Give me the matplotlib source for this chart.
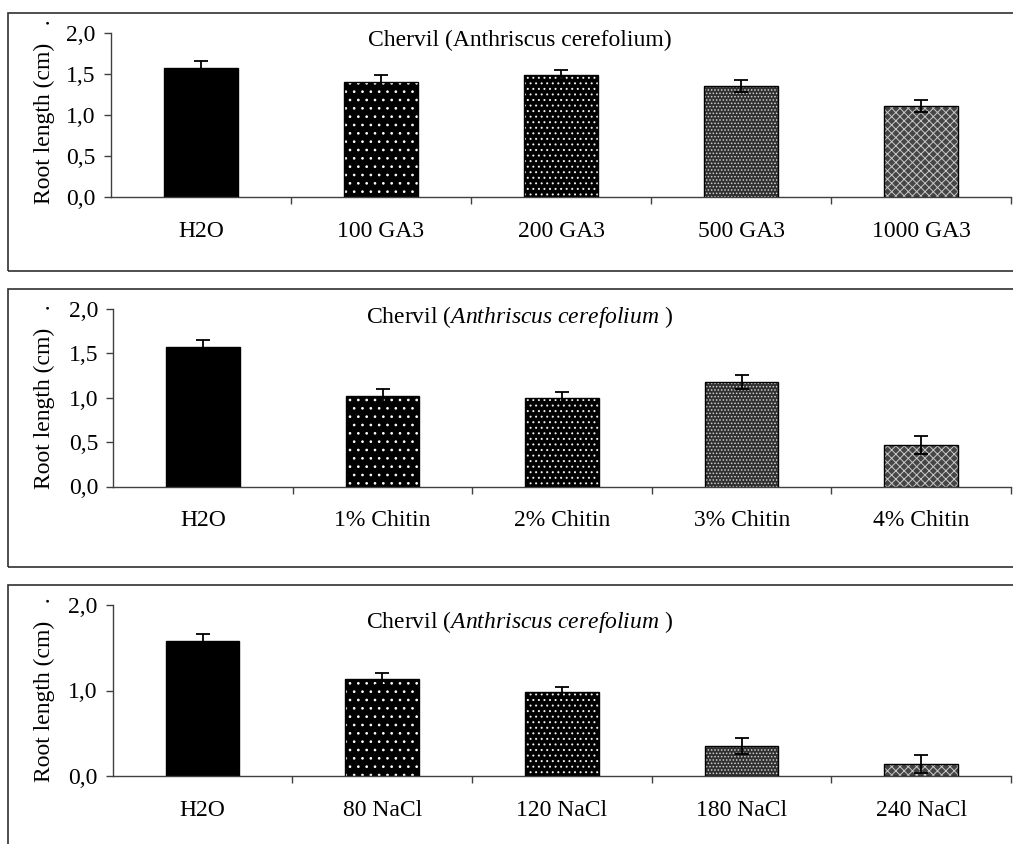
import matplotlib
matplotlib.use("Agg")
import matplotlib.pyplot as plt
from matplotlib.patches import Rectangle

# dados (comprimento da raiz, cm)
cat_ga3 = ["H2O", "100 GA3", "200 GA3", "500 GA3", "1000 GA3"]
ga3_mean = [1.57, 1.40, 1.48, 1.35, 1.11]
ga3_err = [0.09, 0.08, 0.07, 0.07, 0.07]

cat_chitin = ["H2O", "1% Chitin", "2% Chitin", "3% Chitin", "4% Chitin"]
chitin_mean = [1.57, 1.02, 1.00, 1.18, 0.47]
chitin_err = [0.08, 0.08, 0.06, 0.08, 0.10]

cat_nacl = ["H2O", "80 NaCl", "120 NaCl", "180 NaCl", "240 NaCl"]
nacl_mean = [1.58, 1.13, 0.98, 0.35, 0.14]
nacl_err = [0.08, 0.07, 0.06, 0.09, 0.10]

yticks_fino = [0.0, 0.5, 1.0, 1.5, 2.0]
yticks_grosso = [0.0, 1.0, 2.0]

titulo_reto = "Chervil (Anthriscus cerefolium)"
titulo_italico = r"Chervil ($\mathit{Anthriscus\ cerefolium}$ )"
ylabel = "Root length (cm)   ."

W, H = 1013, 844
FONTE = 17

# padrao de cada barra: (cor de fundo, cor da hachura, hachura)
PADROES = [
    ("black", None, None),
    ("black", "white", ".."),
    ("black", "#f0f0f0", "..."),
    ("#303030", "#d0d0d0", "....."),
    ("#454545", "#c8c8c8", "xxxx"),
]


#------------------------------------------------------
def px(x, y):
    """ pixel -> fracao da figura """
    return x / W, 1 - y / H


#------------------------------------------------------
def painel(fig, eixo_px, caixa_px, cats, medias, erros, yticks,
           titulo, titulo_y, label_y):
    x0, ytop, x1, y0 = eixo_px
    l, b = px(x0, y0)
    r, t = px(x1, ytop)
    ax = fig.add_axes([l, b, r - l, t - b])

    x = [i + 0.5 for i in range(len(cats))]
    larg = 0.41

    # fundo das barras
    cores = [p[0] for p in PADROES]
    ax.bar(x, medias, width=larg, color=cores, edgecolor="black",
           linewidth=0, zorder=2)
    # hachuras
    for xi, m, (fundo, hc, h) in zip(x, medias, PADROES):
        if h is None:
            continue
        ax.bar(xi, m, width=larg, facecolor="none", edgecolor=hc,
               hatch=h, linewidth=0, zorder=3)
    # contorno
    ax.bar(x, medias, width=larg, facecolor="none", edgecolor="black",
           linewidth=1.0, zorder=4)
    ax.errorbar(x, medias, yerr=erros, fmt="none", ecolor="black",
                elinewidth=1.3, capsize=4.7, capthick=1.3, zorder=5)

    ax.set_xlim(0, len(cats))
    ax.set_ylim(0, 2.0)
    for s in ("top", "right"):
        ax.spines[s].set_visible(False)
    for s in ("left", "bottom"):
        ax.spines[s].set_color("#404040")
        ax.spines[s].set_linewidth(1.0)

    ax.set_xticks(range(1, len(cats) + 1))
    ax.set_xticklabels([])
    ax.set_xticks(x, minor=True)
    ax.set_xticklabels(cats, minor=True, fontsize=FONTE)
    ax.tick_params(axis="x", which="major", direction="out", length=5,
                   width=1.0, color="#404040")
    ax.tick_params(axis="x", which="minor", length=0, pad=17)

    ax.set_yticks(yticks)
    ax.set_yticklabels([("%.1f" % v).replace(".", ",") for v in yticks],
                       fontsize=FONTE)
    ax.tick_params(axis="y", direction="out", length=5, width=1.0,
                   color="#404040", pad=6)

    # titulo e rotulo do eixo y
    tx, ty = px(520, titulo_y)
    fig.text(tx, ty, titulo, ha="center", va="center", fontsize=FONTE)
    lx, ly = px(44, label_y)
    fig.text(lx, ly, ylabel, rotation=90, ha="center", va="center",
             fontsize=FONTE)

    # moldura do painel
    cx0, cy0, cx1, cy1 = caixa_px
    bl, bb = px(cx0, cy1)
    br, bt = px(cx1, cy0)
    fig.add_artist(Rectangle((bl, bb), br - bl, bt - bb,
                             transform=fig.transFigure, fill=False,
                             edgecolor="#303030", linewidth=1.2))
    return ax


#------------------------------------------------------
def main():
    plt.rcParams["font.family"] = ["Liberation Serif", "DejaVu Serif"]
    plt.rcParams["mathtext.fontset"] = "custom"
    plt.rcParams["mathtext.rm"] = "Liberation Serif"
    plt.rcParams["mathtext.it"] = "Liberation Serif:italic"
    plt.rcParams["hatch.linewidth"] = 0.7

    fig = plt.figure(figsize=(W / 100, H / 100), dpi=100)

    painel(fig, (111, 32.7, 1011, 197.3), (8, 12.7, 1030, 270.7),
           cat_ga3, ga3_mean, ga3_err, yticks_fino,
           titulo_reto, 40, 112)
    painel(fig, (113.3, 309, 1011, 486.5), (8, 289, 1030, 566.7),
           cat_chitin, chitin_mean, chitin_err, yticks_fino,
           titulo_italico, 317, 396.5)
    painel(fig, (112.7, 605, 1011, 776), (7.5, 585, 1030, 860),
           cat_nacl, nacl_mean, nacl_err, yticks_grosso,
           titulo_italico, 622, 690)

    fig.savefig("out.png", dpi=100)


#------------------------------------------------------
if __name__ == "__main__":
    main()
